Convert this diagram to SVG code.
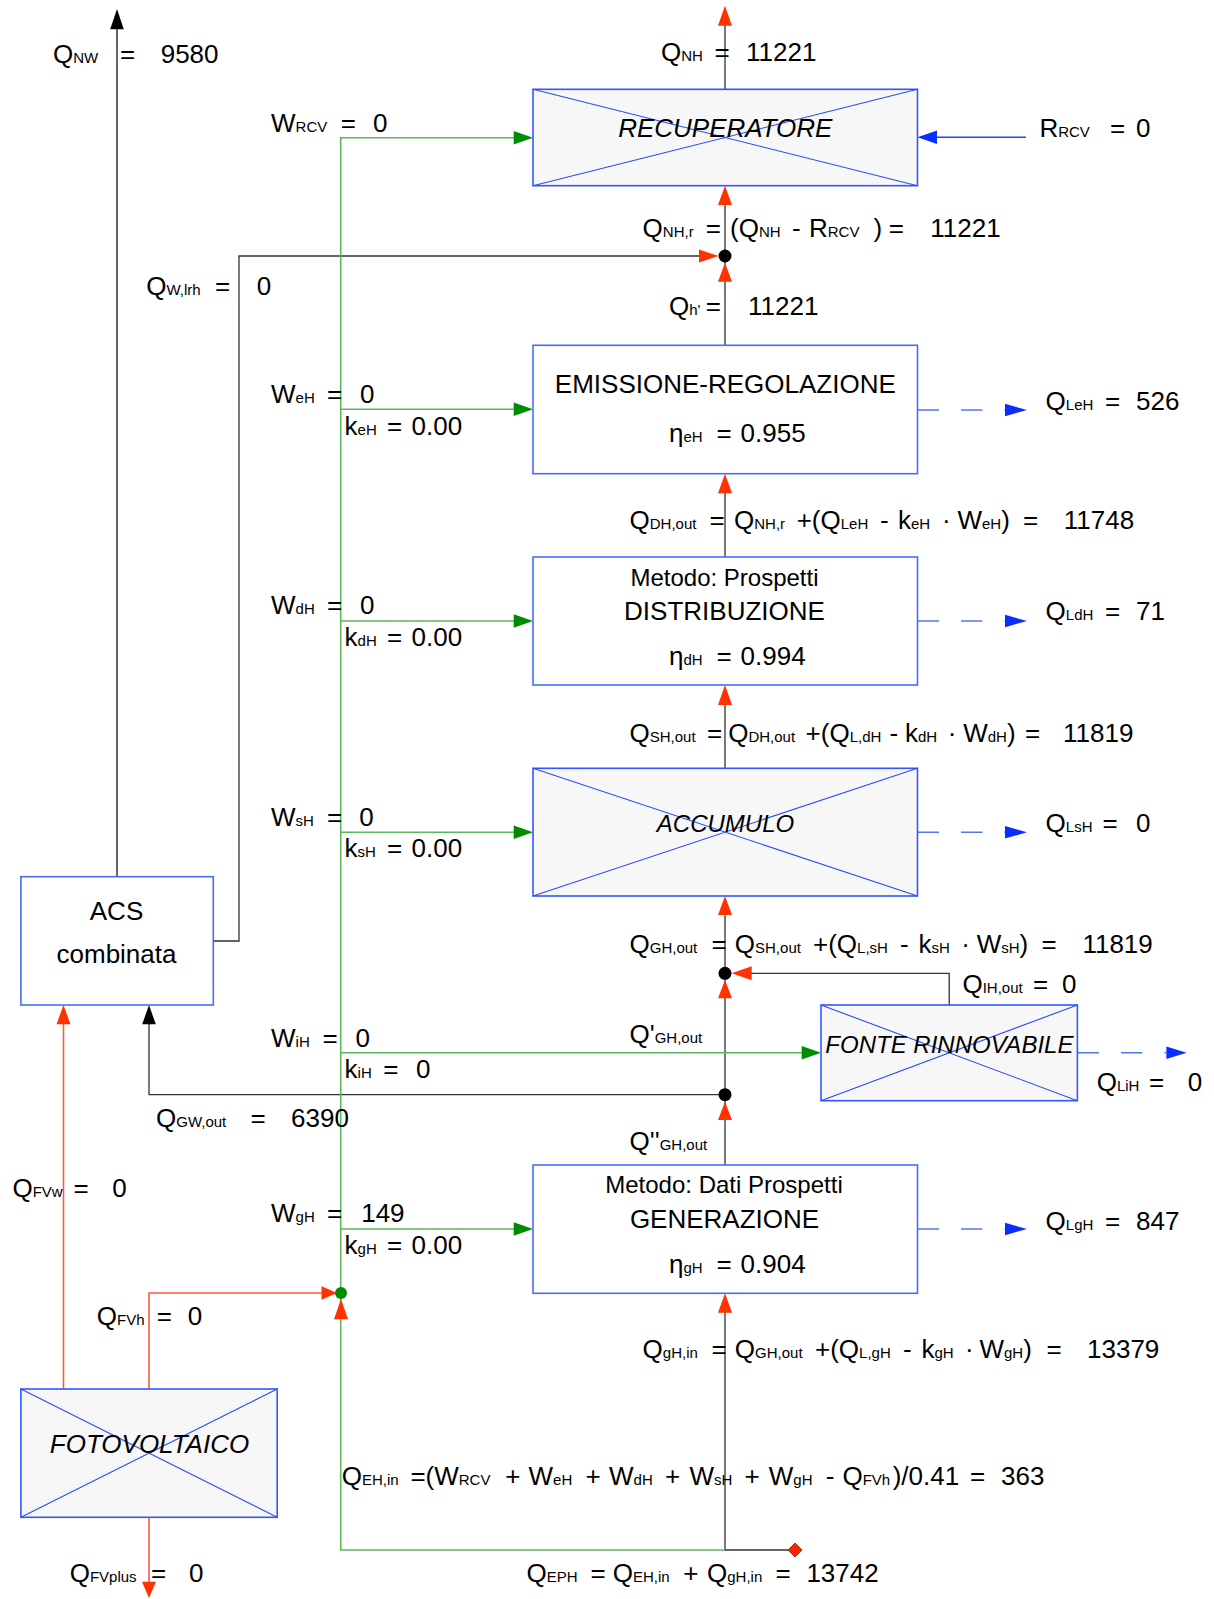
<svg xmlns="http://www.w3.org/2000/svg" width="1214" height="1599" viewBox="0 0 1214 1599">
<style>
.t{font-family:"Liberation Sans",Arial,sans-serif;font-size:26px;fill:#000}
.s{font-size:15px}
.m{font-size:24px}
.i{font-style:italic}
.c{text-anchor:middle}
.box{fill:#fff;stroke:#4a6cf7;stroke-width:1.6}
.xbox{fill:#f7f7f7;stroke:#3355ff;stroke-width:1.6}
.diag{stroke:#2a4cf0;stroke-width:1.1;fill:none}
.blk{stroke:#333;stroke-width:1.3;fill:none}
.gry{stroke:#666;stroke-width:2;fill:none}
.grn{stroke:#5cb85c;stroke-width:1.6;fill:none}
.red{stroke:#ff5a3c;stroke-width:1.6;fill:none}
.blu{stroke:#2244ff;stroke-width:1.4;fill:none}
.bld{stroke:#5577ee;stroke-width:1.6;fill:none;stroke-dasharray:21.5 22}
.ar{fill:#ff3300}
.ag{fill:#008c00}
.ab{fill:#0a2eff}
.ak{fill:#000}
</style>
<rect width="1214" height="1599" fill="#fff"/>
<g id="connectors">
  <!-- main vertical -->
  <path class="blk" d="M725 20V89.3M725 205V345.3M725 493V557M725 705V768.3M725 915V1165M725 1312V1550"/>
  <path class="blk" d="M725 1550H790"/>
  <!-- Qw,lrh loop -->
  <path class="blk" d="M213.3 941H239V256H700"/>
  <!-- QNW -->
  <path class="gry" d="M117 876.7V27"/>
  <!-- QGW,out -->
  <path class="blk" d="M725 1094.7H149V1022"/>
  <!-- QIH,out -->
  <path class="blk" d="M949.2 1005V973.3H750"/>
  <!-- green electric -->
  <path class="grn" d="M514 137.7H340.7V1550H725"/>
  <path class="grn" d="M340.7 409.3H514M340.7 621H514M340.7 832.3H514M340.7 1052.7H802M340.7 1229H514"/>
  <!-- FV lines -->
  <path class="red" d="M63.5 1389V1022"/>
  <path class="red" d="M149 1389V1293H322"/>
  <path class="red" d="M149 1517.3V1583"/>
  <!-- RRCV -->
  <path class="blu" d="M1026 137.3H935"/>
  <!-- dashed losses -->
  <path class="bld" d="M917.5 410H1005M917.5 621H1005M917.5 832.3H1005M917.5 1229H1005M1077.4 1052.7H1166"/>
  <!-- arrowheads red up -->
  <polygon class="ar" points="725,5.7 718,25.7 732,25.7"/>
  <polygon class="ar" points="725,185.7 718,205 732,205"/>
  <polygon class="ar" points="725,262.7 718,281.7 732,281.7"/>
  <polygon class="ar" points="725,473.7 718,493.3 732,493.3"/>
  <polygon class="ar" points="725,685 718,705 732,705"/>
  <polygon class="ar" points="725,896 718,915 732,915"/>
  <polygon class="ar" points="725,980 718,998.3 732,998.3"/>
  <polygon class="ar" points="725,1101.7 718,1120 732,1120"/>
  <polygon class="ar" points="725,1293.3 718,1312.7 732,1312.7"/>
  <polygon class="ar" points="63.5,1005 56.5,1024.3 70.5,1024.3"/>
  <polygon class="ar" points="341,1299 334,1319.3 348,1319.3"/>
  <polygon class="ar" points="718.5,256 699,249.5 699,262.5"/>
  <polygon class="ar" points="337,1293 321.5,1286.3 321.5,1299.7"/>
  <polygon class="ar" points="731.7,973.3 751.7,966.3 751.7,980.3"/>
  <polygon class="ar" points="149,1598 142,1581.7 156,1581.7"/>
  <!-- black arrows -->
  <polygon class="ak" points="117,9 110.2,29.3 123.8,29.3"/>
  <polygon class="ak" points="149,1005 142.2,1024.3 155.8,1024.3"/>
  <!-- green arrows -->
  <polygon class="ag" points="533,137.7 513.7,131 513.7,144.4"/>
  <polygon class="ag" points="533,409.3 513.7,402.6 513.7,416"/>
  <polygon class="ag" points="533,621 513.7,614.3 513.7,627.7"/>
  <polygon class="ag" points="533,832.3 513.7,825.6 513.7,839"/>
  <polygon class="ag" points="533,1229 513.7,1222.3 513.7,1235.7"/>
  <polygon class="ag" points="821,1052.7 801.7,1046 801.7,1059.4"/>
  <!-- blue arrows -->
  <polygon class="ab" points="917.5,137.3 937,130.6 937,144"/>
  <polygon class="ab" points="1027,410 1005,403.8 1005,416.2"/>
  <polygon class="ab" points="1027,621 1005,614.8 1005,627.2"/>
  <polygon class="ab" points="1027,832.3 1005,826.1 1005,838.5"/>
  <polygon class="ab" points="1027,1229 1005,1222.8 1005,1235.2"/>
  <polygon class="ab" points="1186.6,1052.7 1166.4,1046.5 1166.4,1058.9"/>
  <!-- junctions -->
  <circle cx="725" cy="256" r="6.5" fill="#000"/>
  <circle cx="725" cy="973.3" r="6.5" fill="#000"/>
  <circle cx="725" cy="1094.7" r="6.5" fill="#000"/>
  <circle cx="341" cy="1293" r="6" fill="#008c00"/>
  <polygon points="795,1543 802,1550 795,1557 788,1550" fill="#ff2200" stroke="#802000" stroke-width="0.8"/>
</g>

<g id="recuperatore">
  <rect class="xbox" x="533" y="89.3" width="384.5" height="96.4"/>
  <path class="diag" d="M533 89.3L917.5 185.7M533 185.7L917.5 89.3"/>
  <text class="t i c" x="725.3" y="136.7">RECUPERATORE</text>
</g>
<g id="emissione">
  <rect class="box" x="533" y="345.3" width="384.5" height="128.4"/>
  <text class="t c" x="725.3" y="393.3">EMISSIONE-REGOLAZIONE</text>
  <text class="t" y="441.7"><tspan x="669">η</tspan><tspan class="s">eH</tspan><tspan x="716.6">=</tspan><tspan x="740.6">0.955</tspan></text>
</g>
<g id="distribuzione">
  <rect class="box" x="533" y="557" width="384.5" height="128"/>
  <text class="t m c" x="724.5" y="586">Metodo: Prospetti</text>
  <text class="t c" x="724.5" y="620">DISTRIBUZIONE</text>
  <text class="t" y="665"><tspan x="669">η</tspan><tspan class="s">dH</tspan><tspan x="716.6">=</tspan><tspan x="740.6">0.994</tspan></text>
</g>
<g id="accumulo">
  <rect class="xbox" x="533" y="768.3" width="384.5" height="127.7"/>
  <path class="diag" d="M533 768.3L917.5 896M533 896L917.5 768.3"/>
  <text class="t m i c" x="725.5" y="832.3">ACCUMULO</text>
</g>
<g id="fonte-rinnovabile">
  <rect class="xbox" x="821" y="1005" width="256.4" height="95.7"/>
  <path class="diag" d="M821 1005L1077.4 1100.7M821 1100.7L1077.4 1005"/>
  <text class="t m i c" x="949.4" y="1053.3">FONTE RINNOVABILE</text>
</g>
<g id="generazione">
  <rect class="box" x="533" y="1165" width="384.5" height="128.3"/>
  <text class="t m c" x="724" y="1193.3">Metodo: Dati Prospetti</text>
  <text class="t c" x="724.5" y="1228.3">GENERAZIONE</text>
  <text class="t" y="1273.3"><tspan x="669">η</tspan><tspan class="s">gH</tspan><tspan x="716.6">=</tspan><tspan x="740.6">0.904</tspan></text>
</g>
<g id="acs">
  <rect class="box" x="20.9" y="876.7" width="192.4" height="128.3"/>
  <text class="t c" x="116.5" y="920">ACS</text>
  <text class="t c" x="116.5" y="963.3">combinata</text>
</g>
<g id="fotovoltaico">
  <rect class="xbox" x="20.9" y="1389" width="256.3" height="128.3"/>
  <path class="diag" d="M20.9 1389L277.2 1517.3M20.9 1517.3L277.2 1389"/>
  <text class="t i c" x="149.5" y="1453.3">FOTOVOLTAICO</text>
</g>

<g id="labels">
  <text class="t" y="63"><tspan x="53">Q</tspan><tspan class="s">NW</tspan><tspan x="120">=</tspan><tspan x="160.7">9580</tspan></text>
  <text class="t" y="61"><tspan x="661">Q</tspan><tspan class="s">NH</tspan><tspan x="714.6">=</tspan><tspan x="746">11221</tspan></text>
  <text class="t" y="131.7"><tspan x="271">W</tspan><tspan class="s">RCV</tspan><tspan x="340.7">=</tspan><tspan x="373">0</tspan></text>
  <text class="t" y="137.3"><tspan x="1039.4">R</tspan><tspan class="s">RCV</tspan><tspan x="1110">=</tspan><tspan x="1136">0</tspan></text>
  <text class="t" y="237.3"><tspan x="642.6">Q</tspan><tspan class="s">NH,r</tspan><tspan x="705.7">=</tspan><tspan x="730">(Q</tspan><tspan class="s">NH</tspan><tspan x="792">-</tspan><tspan x="809">R</tspan><tspan class="s">RCV</tspan><tspan x="873.4">)</tspan><tspan x="888.8">=</tspan><tspan x="930.3">11221</tspan></text>
  <text class="t" y="295"><tspan x="146.3">Q</tspan><tspan class="s">W,lrh</tspan><tspan x="214.9">=</tspan><tspan x="256.7">0</tspan></text>
  <text class="t" y="315"><tspan x="669">Q</tspan><tspan class="s">h'</tspan><tspan x="705.7">=</tspan><tspan x="748">11221</tspan></text>

  <text class="t" y="403.3"><tspan x="271">W</tspan><tspan class="s">eH</tspan><tspan x="327">=</tspan><tspan x="360">0</tspan></text>
  <text class="t" y="435"><tspan x="344.6">k</tspan><tspan class="s">eH</tspan><tspan x="387">=</tspan><tspan x="411.5">0.00</tspan></text>
  <text class="t" y="410"><tspan x="1045.6">Q</tspan><tspan class="s">LeH</tspan><tspan x="1105">=</tspan><tspan x="1136">526</tspan></text>

  <text class="t" y="529.3"><tspan x="629.5">Q</tspan><tspan class="s">DH,out</tspan><tspan x="709.6">=</tspan><tspan x="734">Q</tspan><tspan class="s">NH,r</tspan><tspan x="796.7">+(Q</tspan><tspan class="s">LeH</tspan><tspan x="880">-</tspan><tspan x="898">k</tspan><tspan class="s">eH</tspan><tspan x="942">·</tspan><tspan x="957.4">W</tspan><tspan class="s">eH</tspan><tspan>)</tspan><tspan x="1023">=</tspan><tspan x="1063.8">11748</tspan></text>

  <text class="t" y="614.3"><tspan x="271">W</tspan><tspan class="s">dH</tspan><tspan x="327">=</tspan><tspan x="360">0</tspan></text>
  <text class="t" y="646"><tspan x="344.6">k</tspan><tspan class="s">dH</tspan><tspan x="387">=</tspan><tspan x="411.5">0.00</tspan></text>
  <text class="t" y="620"><tspan x="1045.6">Q</tspan><tspan class="s">LdH</tspan><tspan x="1105">=</tspan><tspan x="1136">71</tspan></text>

  <text class="t" y="741.7"><tspan x="629.5">Q</tspan><tspan class="s">SH,out</tspan><tspan x="707">=</tspan><tspan x="728.2">Q</tspan><tspan class="s">DH,out</tspan><tspan x="805.6">+(Q</tspan><tspan class="s">L,dH</tspan><tspan x="889.6">-</tspan><tspan x="905">k</tspan><tspan class="s">dH</tspan><tspan x="947.7">·</tspan><tspan x="963.2">W</tspan><tspan class="s">dH</tspan><tspan>)</tspan><tspan x="1025">=</tspan><tspan x="1063">11819</tspan></text>

  <text class="t" y="826"><tspan x="271">W</tspan><tspan class="s">sH</tspan><tspan x="327">=</tspan><tspan x="359.3">0</tspan></text>
  <text class="t" y="857.3"><tspan x="344.6">k</tspan><tspan class="s">sH</tspan><tspan x="387">=</tspan><tspan x="411.5">0.00</tspan></text>
  <text class="t" y="831.7"><tspan x="1045.6">Q</tspan><tspan class="s">LsH</tspan><tspan x="1102.6">=</tspan><tspan x="1136">0</tspan></text>

  <text class="t" y="953.3"><tspan x="629.5">Q</tspan><tspan class="s">GH,out</tspan><tspan x="711.5">=</tspan><tspan x="734.8">Q</tspan><tspan class="s">SH,out</tspan><tspan x="813">+(Q</tspan><tspan class="s">L,sH</tspan><tspan x="900">-</tspan><tspan x="918.6">k</tspan><tspan class="s">sH</tspan><tspan x="961.2">·</tspan><tspan x="976.7">W</tspan><tspan class="s">sH</tspan><tspan>)</tspan><tspan x="1041.4">=</tspan><tspan x="1082.4">11819</tspan></text>
  <text class="t" y="993.3"><tspan x="962.4">Q</tspan><tspan class="s">IH,out</tspan><tspan x="1033">=</tspan><tspan x="1062">0</tspan></text>

  <text class="t" y="1046.7"><tspan x="271">W</tspan><tspan class="s">iH</tspan><tspan x="322.5">=</tspan><tspan x="355.4">0</tspan></text>
  <text class="t" y="1078.3"><tspan x="344.6">k</tspan><tspan class="s">iH</tspan><tspan x="383.3">=</tspan><tspan x="416">0</tspan></text>
  <text class="t" y="1043.3"><tspan x="629.5">Q'</tspan><tspan class="s">GH,out</tspan></text>
  <text class="t" y="1091"><tspan x="1096.7">Q</tspan><tspan class="s">LiH</tspan><tspan x="1149">=</tspan><tspan x="1187.7">0</tspan></text>
  <text class="t" y="1126.7"><tspan x="156">Q</tspan><tspan class="s">GW,out</tspan><tspan x="250.5">=</tspan><tspan x="291">6390</tspan></text>
  <text class="t" y="1150"><tspan x="629.5">Q''</tspan><tspan class="s">GH,out</tspan></text>

  <text class="t" y="1197.3"><tspan x="12.4">Q</tspan><tspan class="s">FVw</tspan><tspan x="73.6">=</tspan><tspan x="112.3">0</tspan></text>
  <text class="t" y="1221.7"><tspan x="271">W</tspan><tspan class="s">gH</tspan><tspan x="327">=</tspan><tspan x="361.2">149</tspan></text>
  <text class="t" y="1254"><tspan x="344.6">k</tspan><tspan class="s">gH</tspan><tspan x="387">=</tspan><tspan x="411.5">0.00</tspan></text>
  <text class="t" y="1230"><tspan x="1045.6">Q</tspan><tspan class="s">LgH</tspan><tspan x="1105">=</tspan><tspan x="1136">847</tspan></text>
  <text class="t" y="1325"><tspan x="96.8">Q</tspan><tspan class="s">FVh</tspan><tspan x="156.8">=</tspan><tspan x="187.8">0</tspan></text>

  <text class="t" y="1358.3"><tspan x="642.6">Q</tspan><tspan class="s">gH,in</tspan><tspan x="711.5">=</tspan><tspan x="734.8">Q</tspan><tspan class="s">GH,out</tspan><tspan x="815">+(Q</tspan><tspan class="s">L,gH</tspan><tspan x="903">-</tspan><tspan x="921.4">k</tspan><tspan class="s">gH</tspan><tspan x="965">·</tspan><tspan x="979.4">W</tspan><tspan class="s">gH</tspan><tspan>)</tspan><tspan x="1046.4">=</tspan><tspan x="1087">13379</tspan></text>

  <text class="t" y="1485"><tspan x="341.8">Q</tspan><tspan class="s">EH,in</tspan><tspan x="410.4">=(W</tspan><tspan class="s">RCV</tspan><tspan x="505.2">+</tspan><tspan x="528.5">W</tspan><tspan class="s">eH</tspan><tspan x="585.4">+</tspan><tspan x="609">W</tspan><tspan class="s">dH</tspan><tspan x="665">+</tspan><tspan x="689.5">W</tspan><tspan class="s">sH</tspan><tspan x="744.4">+</tspan><tspan x="768.8">W</tspan><tspan class="s">gH</tspan><tspan x="825.7">-</tspan><tspan x="842.4">Q</tspan><tspan class="s">FVh</tspan><tspan x="892.7">)/0.41</tspan><tspan x="970">=</tspan><tspan x="1001">363</tspan></text>

  <text class="t" y="1581.7"><tspan x="69.7">Q</tspan><tspan class="s">FVplus</tspan><tspan x="151">=</tspan><tspan x="189">0</tspan></text>
  <text class="t" y="1581.7"><tspan x="526.5">Q</tspan><tspan class="s">EPH</tspan><tspan x="590.4">=</tspan><tspan x="612.8">Q</tspan><tspan class="s">EH,in</tspan><tspan x="683.3">+</tspan><tspan x="707">Q</tspan><tspan class="s">gH,in</tspan><tspan x="775.4">=</tspan><tspan x="806.4">13742</tspan></text>
</g>
</svg>
